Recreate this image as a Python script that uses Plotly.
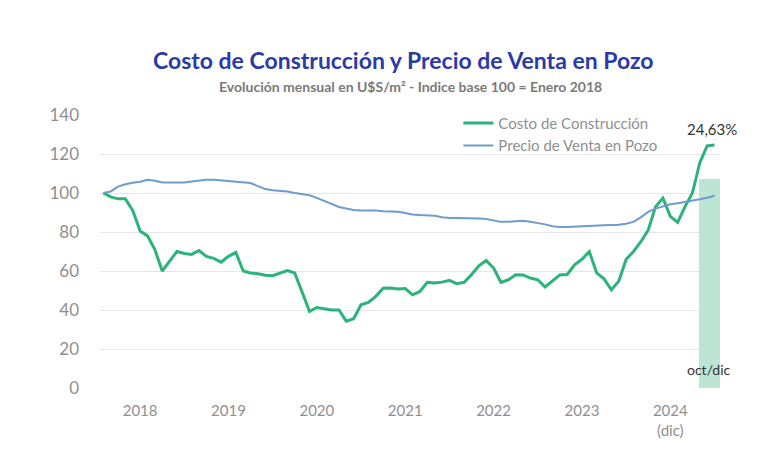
import plotly.graph_objects as go

# Monthly index, Jan 2018 .. Dec 2024 (84 months)
months = list(range(84))
costo_construccion = [
    100, 98, 97, 97, 91, 80.5, 78, 71, 60, 65, 70, 69,
    68.5, 70.5, 67.5, 66.5, 64.5, 67.5, 69.5, 60, 59, 58.6, 57.8, 57.6,
    59, 60.2, 59, 48.7, 39.3, 41.3, 40.5, 40, 40, 34.3, 35.5, 42.7,
    43.9, 47, 51.2, 51.3, 50.8, 51, 47.8, 49.5, 54.2, 53.9, 54.3, 55.2,
    53.5, 54.2, 58.1, 62.7, 65.4, 61.5, 54.2, 55.5, 58.1, 58, 56.4, 55.5,
    51.8, 54.7, 58, 58.2, 63.2, 66, 70, 59, 56, 50.4, 54.7, 66,
    70, 75, 81, 93, 97.4, 88, 84.9, 93, 100, 115.4, 124.2, 124.6,
]
precio_venta_pozo = [
    100, 100.8, 103.3, 104.5, 105.2, 105.8, 106.8, 106.3, 105.4, 105.5, 105.6, 105.4,
    105.9, 106.5, 106.8, 106.8, 106.5, 106, 105.7, 105.5, 105.1, 103.5, 102, 101.4,
    101, 100.8, 100, 99.3, 98.8, 97.5, 96, 94.2, 92.8, 92, 91.3, 91,
    91.1, 91, 90.7, 90.5, 90.4, 89.7, 89, 88.7, 88.5, 88.3, 87.6, 87.2,
    87.2, 87.2, 87.1, 86.9, 86.7, 86.1, 85.2, 85.3, 85.6, 85.8, 85.3, 84.7,
    83.9, 83, 82.6, 82.6, 82.7, 82.9, 82.9, 83.2, 83.4, 83.6, 83.7, 84.2,
    85.2, 87.5, 90.3, 92, 93.2, 94.2, 94.7, 95.3, 96, 96.8, 97.6, 98.6,
]
year_tick_pos = [5, 17, 29, 41, 53, 65, 77]
year_labels = ["2018", "2019", "2020", "2021", "2022", "2023", "2024<br>(dic)"]
highlight_x = [82.3]
highlight_y = [107]
highlight_label = "oct/dic"
variation_label = "24,63%"

FONT = "Lato"
GREEN = "#2BB37A"
BLUE = "#6E9CCB"

fig = go.Figure()
fig.add_trace(go.Bar(
    x=highlight_x, y=highlight_y, width=2.9,
    marker=dict(color="#BCE6D3", line=dict(width=0)),
    showlegend=False, hoverinfo="skip",
))
fig.add_trace(go.Scatter(
    x=months, y=costo_construccion, mode="lines",
    name="Costo de Construcción", line=dict(color=GREEN, width=3),
))
fig.add_trace(go.Scatter(
    x=months, y=precio_venta_pozo, mode="lines",
    name="Precio de Venta en Pozo", line=dict(color=BLUE, width=2),
))

fig.update_layout(
    width=780, height=473,
    margin=dict(l=100, r=60, t=115, b=85),
    paper_bgcolor="white", plot_bgcolor="white",
    font=dict(family=FONT, color="#8f8f8f"),
    showlegend=True,
    legend=dict(
        x=0.578, y=1.03, xanchor="left", yanchor="top",
        bgcolor="rgba(0,0,0,0)", font=dict(size=15, color="#8f8f8f"),
        itemwidth=30, tracegroupgap=0,
    ),
    xaxis=dict(
        range=[-0.45, 83.75], showgrid=False, zeroline=False,
        tickmode="array", tickvals=year_tick_pos, ticktext=year_labels,
        tickfont=dict(size=15, color="#8f8f8f"), ticks="",
        ticklabelstandoff=12, showline=False,
    ),
    yaxis=dict(
        range=[0, 140], dtick=20, showgrid=True, gridcolor="#e6e6e6",
        gridwidth=1, zeroline=False, showline=False,
        tickfont=dict(size=17, color="#8f8f8f"), ticks="",
        ticklabelstandoff=20,
    ),
    bargap=0,
)

fig.add_annotation(
    xref="paper", yref="paper", x=0.489, y=1.2026,
    text="<b>Costo de Construcción y Precio de Venta en Pozo</b>",
    showarrow=False, font=dict(size=23, color="#2B3BA6", family=FONT),
    xanchor="center", yanchor="middle",
)
fig.add_annotation(
    xref="paper", yref="paper", x=0.5, y=1.104,
    text="<b>Evolución mensual en U$S/m² - Indice base 100 = Enero 2018</b>",
    showarrow=False, font=dict(size=14, color="#7a7a7a", family=FONT),
    xanchor="center", yanchor="middle",
)
fig.add_annotation(
    x=82.6, y=133, text=variation_label, showarrow=False,
    font=dict(size=15, color="#333333", family=FONT),
    xanchor="center", yanchor="middle",
)
fig.add_annotation(
    x=highlight_x[0], y=9.5, text=highlight_label, showarrow=False,
    font=dict(size=14, color="#333333", family=FONT),
    xanchor="center", yanchor="middle",
)

fig.write_html("out.html")
